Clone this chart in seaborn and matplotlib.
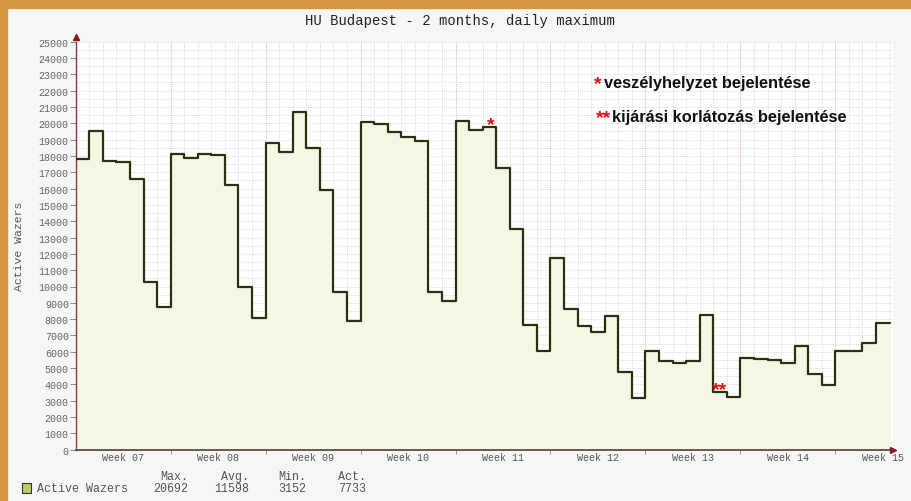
import numpy as np
import pandas as pd
import matplotlib
matplotlib.use("Agg")
import matplotlib.pyplot as plt
import seaborn as sns
from matplotlib.patches import Rectangle

# daily maximum of active wazers, Budapest (week 07 .. week 15)
daily_max = [
    17800, 19500, 17700, 17600, 16600, 10250, 8750,   # week 07
    18100, 17900, 18100, 18050, 16200, 10000, 8070,   # week 08
    18800, 18250, 20692, 18500, 15900, 9650, 7900,    # week 09
    20050, 19950, 19450, 19150, 18900, 9650, 9100,    # week 10
    20150, 19600, 19750, 17250, 13500, 7650, 6050,    # week 11
    11750, 8600, 7550, 7200, 8200, 4750, 3152,        # week 12
    6050, 5450, 5330, 5450, 8270, 3520, 3200,         # week 13
    5600, 5530, 5480, 5330, 6370, 4640, 3960,         # week 14
    6070, 6060, 6540, 7733,                           # week 15
]
week_labels = ["Week 07", "Week 08", "Week 09", "Week 10", "Week 11",
               "Week 12", "Week 13", "Week 14", "Week 15"]
stat_names = ["Max.", "Avg.", "Min.", "Act."]
stat_values = ["20692", "11598", "3152", "7733"]
series_name = "Active Wazers"
title = "HU Budapest - 2 months, daily maximum"
notes = ["veszélyhelyzet bejelentése", "kijárási korlátozás bejelentése"]
note_marks = ["*", "**"]
note_days = [30, 47]  # day index of the two announcements

df = pd.DataFrame({"day": np.arange(len(daily_max)), "value": daily_max})
# repeat the last value so the last step is drawn to the end of its day
df_step = pd.concat([df, pd.DataFrame({"day": [len(df)], "value": [df["value"].iloc[-1]]})],
                    ignore_index=True)

sns.set_theme(style="white")
mono = "Liberation Mono"

W, H = 912, 502
fig = plt.figure(figsize=(W / 100, H / 100), dpi=100, facecolor="#f6f6f6")


def fx(px):
    return px / W


def fy(py):
    return 1 - py / H


# orange frame (top and left)
fig.patches.append(Rectangle((0, fy(9)), 1, 9 / H, transform=fig.transFigure,
                             color="#d4973f", zorder=0))
fig.patches.append(Rectangle((0, 0), 7 / W, 1, transform=fig.transFigure,
                             color="#d4973f", zorder=0))

ax_l, ax_r, ax_t, ax_b = 75.7, 893.0, 42.7, 450.7
ax = fig.add_axes([fx(ax_l), fy(ax_b), fx(ax_r - ax_l), (ax_b - ax_t) / H])
ax.set_facecolor("#ffffff")

n_days = len(daily_max)
ax.set_xlim(0, n_days + 0.25)
ax.set_ylim(0, 25000)

# grid: daily / 500 dotted, week boundaries pink
for d in range(1, n_days + 1):
    col = "#e8b4b4" if d % 7 == 0 else "#dcdcdc"
    ax.axvline(d, color=col, lw=0.7, ls=(0, (1, 1)), zorder=0)
for v in range(500, 25001, 500):
    ax.axhline(v, color="#dcdcdc", lw=0.7, ls=(0, (1, 1)), zorder=0)

ax.fill_between(df_step["day"], df_step["value"], step="post",
                color="#f4f7e6", zorder=1)
sns.lineplot(data=df_step, x="day", y="value", drawstyle="steps-post",
             color="#2b300d", lw=1.6, ax=ax, zorder=3)

# axes styling
for side in ["top", "right"]:
    ax.spines[side].set_visible(False)
ax.spines["left"].set_color("#8b3a3a")
ax.spines["bottom"].set_color("#5a3a3a")
ax.spines["left"].set_linewidth(1.0)
ax.spines["bottom"].set_linewidth(1.2)
ax.plot([0], [1.012], marker="^", color="#8b1a1a", ms=4, transform=ax.transAxes,
        clip_on=False)
ax.plot([1.0], [0], marker=">", color="#8b1a1a", ms=4, transform=ax.transAxes,
        clip_on=False)

ax.set_yticks(np.arange(0, 25001, 1000))
ax.set_yticklabels([str(v) for v in range(0, 25001, 1000)])
ax.set_xticks(np.arange(3.5, n_days, 7))
ax.set_xticklabels(week_labels)
ax.set_xticks(np.arange(7, n_days, 7), minor=True)
ax.tick_params(axis="y", which="major", length=4, width=0.7, color="#888888",
               pad=1, labelsize=7.2, labelcolor="#666666", left=True)
ax.tick_params(axis="x", which="major", length=0, pad=2, labelsize=7.2,
               labelcolor="#555555", bottom=True)
ax.tick_params(axis="x", which="minor", length=3, width=0.7, color="#999999",
               bottom=True)
for lab in ax.get_xticklabels() + ax.get_yticklabels():
    lab.set_family(mono)
ax.set_xlabel("")
ax.set_ylabel(series_name, family=mono, fontsize=8.2, color="#555555")
ax.yaxis.set_label_coords((24 - ax_l) / (ax_r - ax_l), 0.5)

# announcement markers on the curve
ax.text(note_days[0] + 0.6, daily_max[note_days[0]] - 320, note_marks[0],
        color="#e01010", fontsize=14, fontweight="bold", ha="center", va="bottom",
        family="Liberation Sans", zorder=4)
ax.text(note_days[1] + 0.5, daily_max[note_days[1]] - 380, note_marks[1],
        color="#e01010", fontsize=14, fontweight="bold", ha="center", va="bottom",
        family="Liberation Sans", zorder=4)

# notes box text
for i, (mark, note) in enumerate(zip(note_marks, notes)):
    ypx = 88 + i * 34
    fig.text(fx(602 if i == 0 else 611), fy(ypx + 1), mark, color="#e01010", fontsize=14,
             fontweight="bold", ha="right", va="baseline", family="Liberation Sans")
    fig.text(fx(604 if i == 0 else 612), fy(ypx), note, color="#111111", fontsize=11.8,
             fontweight="bold", ha="left", va="baseline", family="Liberation Sans")

fig.text(fx(460), fy(21), title, family=mono, fontsize=10.0, color="#222222",
         ha="center", va="center")

# legend row at the bottom
fig.patches.append(Rectangle((fx(22), fy(494)), 9 / W, 10 / H, transform=fig.transFigure,
                             facecolor="#b9cf6b", edgecolor="#333333", lw=0.8))
fig.text(fx(37), fy(489.5), series_name, family=mono, fontsize=8.4, color="#555555",
         ha="left", va="center")
for name, val, xr in zip(stat_names, stat_values, [188, 249, 306, 366]):
    fig.text(fx(xr), fy(477), name, family=mono, fontsize=8.4, color="#555555",
             ha="right", va="center")
    fig.text(fx(xr), fy(489.5), val, family=mono, fontsize=8.4, color="#555555",
             ha="right", va="center")

fig.savefig("out.png", dpi=100, facecolor=fig.get_facecolor())
